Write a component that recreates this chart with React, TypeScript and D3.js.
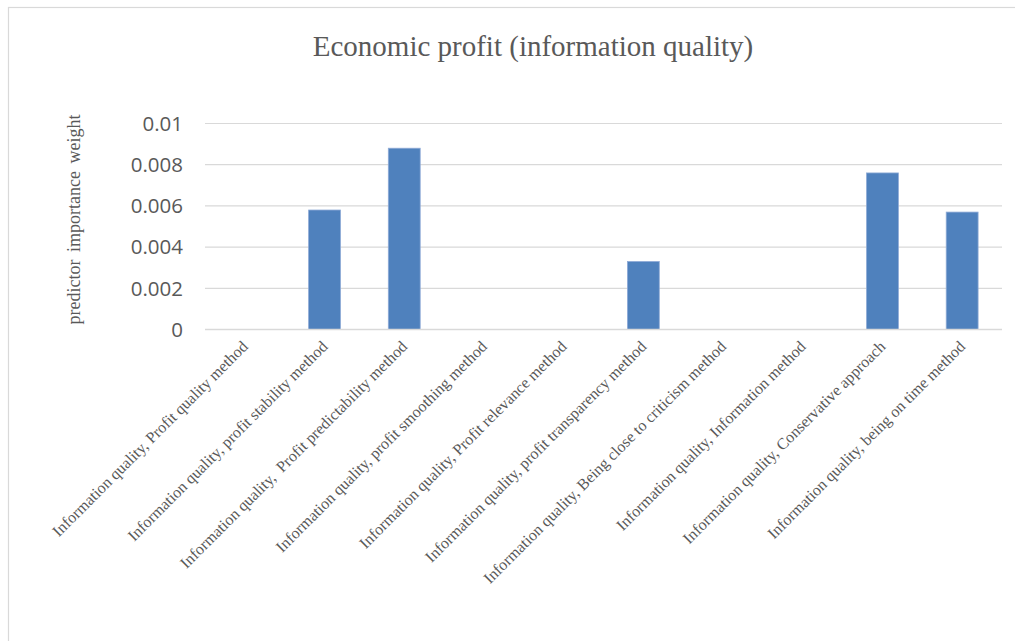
import React, { useEffect, useRef } from "react";
import * as d3 from "d3";

const categories = [
  "Information quality, Profit quality method",
  "Information quality, profit stability method",
  "Information quality,  Profit predictability method",
  "Information quality, profit smoothing method",
  "Information quality, Profit relevance method",
  "Information quality, profit transparency method",
  "Information quality, Being close to criticism method",
  "Information quality, Information method",
  "Information quality, Conservative approach",
  "Information quality, being on time method",
];

const weights = [0, 0.0058, 0.0088, 0, 0, 0.0033, 0, 0, 0.0076, 0.0057];

const yTicks = [0, 0.002, 0.004, 0.006, 0.008, 0.01];
const yTickLabels = ["0", "0.002", "0.004", "0.006", "0.008", "0.01"];

const App = () => {
  const svgRef = useRef<SVGSVGElement>(null);

  useEffect(() => {
    const svg = d3.select(svgRef.current);
    svg.selectAll("*").remove();

    const width = 1015;
    const height = 641;
    const margin = { top: 123.5, right: 13, bottom: 311.5, left: 205 };
    const serif = "'Liberation Serif', 'Times New Roman', serif";
    const sans = "'Open Sans', 'Noto Sans', sans-serif";
    const grey = "#595959";

    // chart frame
    svg
      .append("rect")
      .attr("x", 8.5)
      .attr("y", 7.5)
      .attr("width", width)
      .attr("height", height)
      .attr("fill", "#fff")
      .attr("stroke", "#d9d9d9")
      .attr("stroke-width", 1.2);

    const x = d3
      .scaleBand()
      .domain(categories)
      .range([margin.left, width - margin.right])
      .paddingInner(0.6)
      .paddingOuter(0.3);

    const y = d3
      .scaleLinear()
      .domain([0, 0.01])
      .range([height - margin.bottom, margin.top]);

    // gridlines
    svg
      .selectAll(".grid")
      .data(yTicks)
      .join("line")
      .attr("class", "grid")
      .attr("x1", margin.left)
      .attr("x2", width - margin.right)
      .attr("y1", (d) => y(d))
      .attr("y2", (d) => y(d))
      .attr("stroke", "#d9d9d9")
      .attr("stroke-width", 1.2);

    // y tick labels
    svg
      .selectAll(".ytick")
      .data(yTicks)
      .join("text")
      .attr("class", "ytick")
      .attr("x", 183)
      .attr("y", (d) => y(d))
      .attr("dy", "0.36em")
      .attr("text-anchor", "end")
      .attr("font-family", sans)
      .attr("font-size", 20.5)
      .attr("fill", grey)
      .text((d, i) => yTickLabels[i]);

    // bars
    svg
      .selectAll(".bar")
      .data(weights)
      .join("rect")
      .attr("class", "bar")
      .attr("x", (d, i) => x(categories[i])!)
      .attr("y", (d) => y(d))
      .attr("width", x.bandwidth())
      .attr("height", (d) => y(0) - y(d))
      .attr("fill", "#4f81bd")
      .attr("stroke", "#8eaad6")
      .attr("stroke-width", 0.8)
      .attr("opacity", (d) => (d > 0 ? 1 : 0));

    // redraw baseline on top
    svg
      .append("line")
      .attr("x1", margin.left)
      .attr("x2", width - margin.right)
      .attr("y1", y(0))
      .attr("y2", y(0))
      .attr("stroke", "#d9d9d9")
      .attr("stroke-width", 1.5);

    // category labels
    svg
      .selectAll(".xlabel")
      .data(categories)
      .join("text")
      .attr("class", "xlabel")
      .attr("transform", (d) => {
        const cx = x(d)! + x.bandwidth() / 2 + 4;
        return `translate(${cx},${y(0) + 18}) rotate(-45)`;
      })
      .attr("text-anchor", "end")
      .attr("font-family", serif)
      .attr("font-size", 16)
      .attr("fill", grey)
      .style("white-space", "pre")
      .text((d) => d);

    // title
    svg
      .append("text")
      .attr("x", 533)
      .attr("y", 56)
      .attr("text-anchor", "middle")
      .attr("font-family", serif)
      .attr("font-size", 29)
      .attr("fill", grey)
      .text("Economic profit (information quality)");

    // y axis title
    svg
      .append("text")
      .attr("transform", `translate(80,${(y(0) + y(0.01)) / 2 - 7}) rotate(-90)`)
      .attr("text-anchor", "middle")
      .attr("font-family", serif)
      .attr("font-size", 18)
      .attr("word-spacing", 3)
      .attr("fill", grey)
      .text("predictor importance weight");
  }, []);

  return (
    <svg
      ref={svgRef}
      width={1015}
      height={641}
      style={{ position: "absolute", left: 0, top: 0, display: "block" }}
    ></svg>
  );
};

export default App;
